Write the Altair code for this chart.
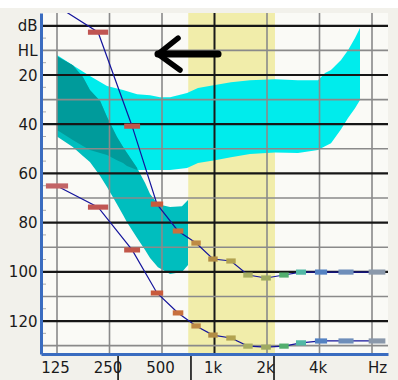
import altair as alt
import pandas as pd
import numpy as np

# ---------------- data ----------------
grid_freqs = [125, 250, 500, 1000, 2000, 4000, 8000]
x_tick_labels = ["125", "250", "500", "1k", "2k", "4k", "Hz"]
major_db = [0, 20, 40, 60, 80, 100, 120]
minor_db = [10, 30, 50, 70, 90, 110, 130]
small_tick_db = [5, 15, 25, 35, 45, 55, 65, 75, 85, 95, 105, 115, 125]
y_tick_values = [0, 10, 20, 40, 60, 80, 100, 120]
y_tick_labels = ["dB", "HL", "20", "40", "60", "80", "100", "120"]

band_lo = [707]
band_hi = [2222]
band_marks = [280, 733, 2194]

# light cyan band
a_freq = [125, 154, 193, 242, 299, 360, 427, 487, 556, 696, 804, 1007, 1243, 1598,
          2222, 3011, 3920, 4304, 4656, 5316, 5830, 6394, 6828]
a_top = [11.9, 16.0, 20.4, 24.5, 26.1, 27.8, 28.2, 29.0, 29.0, 27.3, 25.3, 24.1, 22.9, 22.1,
         21.7, 22.1, 22.1, 19.2, 18.0, 13.9, 9.9, 5.0, 0.9]
a_bottom = [42.4, 46.4, 50.5, 52.5, 55.8, 58.6, 58.6, 58.6, 58.6, 57.8, 55.8, 54.6, 53.4, 52.1,
            51.5, 51.7, 50.5, 49.0, 47.7, 42.0, 37.5, 33.5, 30.2]

# medium teal region
b_freq = [125, 154, 176, 193, 221, 242, 276, 299, 315, 360, 400, 427, 474, 556, 651, 705]
b_top = [12.4, 16.0, 20.8, 26.1, 30.6, 37.1, 45.2, 49.3, 51.7, 57.8, 63.9, 68.4, 72.5, 73.7, 73.3, 70.8]
b_bottom = [45.0, 49.3, 52.9, 55.4, 61.1, 65.5, 72.5, 76.9, 79.8, 86.3, 91.1, 94.4, 98.1, 100.9, 100.1, 97.2]

# dark teal overlap
d_freq = [125, 154, 176, 193, 221, 242, 276, 299, 315, 360]
d_top = [12.4, 16.0, 20.8, 26.1, 30.6, 37.1, 45.2, 49.3, 51.7, 57.8]
d_bottom = [42.4, 46.4, 48.9, 50.5, 51.7, 52.5, 54.6, 55.8, 57.0, 58.6]

# the two curves
curve_freq = [125, 215, 337, 468, 618, 784, 980, 1243, 1556, 1974, 2503, 3134, 4081, 5676, 8547]
upper_db = [-8.0, 2.6, 40.8, 72.5, 83.4, 88.3, 94.8, 95.6, 101.3, 102.5, 101.3, 100.1, 100.1, 100.1, 100.1]
lower_db = [65.1, 73.7, 91.1, 108.6, 116.7, 122.0, 125.7, 126.9, 130.2, 130.6, 130.2, 128.9, 128.1, 128.1, 128.1]
marker_colors = ["#C26466", "#C05552", "#C2574A", "#C85A3C", "#C8703E", "#BE8A44", "#B28C44",
                 "#B2A250", "#A8AE62", "#9EAA62", "#52AE6E", "#52B8A6", "#5482C2", "#6E8EBA", "#8A98AA"]

# arrow (shaft, then two arms)
arrow_x = [474, 474, 474]
arrow_x2 = [1048, 618, 634]
arrow_y = [11.5, 11.5, 11.5]
arrow_y2 = [11.5, 5.0, 18.0]

# ---------------- tables ----------------
W, H = 347, 341
xs = alt.Scale(type="log", domain=[101.2, 9882])
ys = alt.Scale(domain=[-5.2, 133.4], reverse=True)
FONT = "DejaVu Sans"


def lab_expr(vals, labs):
    e = "''"
    for v, l in zip(reversed(vals), reversed(labs)):
        e = f"datum.value == {v} ? '{l}' : ({e})"
    return e


x_axis = alt.Axis(values=grid_freqs, labelExpr=lab_expr(grid_freqs, x_tick_labels), grid=False,
                  ticks=False, domainColor="#3A6CC0", domainWidth=3, labelFont=FONT,
                  labelFontSize=15, labelColor="#1a1a1a", labelPadding=6, labelOverlap=False,
                  labelOffset={"condition": {"test": "datum.value == 8000", "value": 5}, "value": -2},
                  title=None, zindex=1)
y_axis = alt.Axis(values=y_tick_values, labelExpr=lab_expr(y_tick_values, y_tick_labels), grid=False,
                  ticks=False, domainColor="#3A6CC0", domainWidth=3, labelFont=FONT,
                  labelFontSize=15, labelColor="#1a1a1a", labelPadding=4, labelOverlap=False,
                  title=None, zindex=1)


def X(f):
    return alt.X(f, type="quantitative", scale=xs, axis=x_axis)


def Y(f):
    return alt.Y(f, type="quantitative", scale=ys, axis=y_axis)


band_df = pd.DataFrame({"lo": band_lo, "hi": band_hi})
a_df = pd.DataFrame({"f": a_freq, "t": a_top, "b": a_bottom})
b_df = pd.DataFrame({"f": b_freq, "t": b_top, "b": b_bottom})
d_df = pd.DataFrame({"f": d_freq, "t": d_top, "b": d_bottom})
vgrid_df = pd.DataFrame({"f": grid_freqs, "major": [f == 1000 for f in grid_freqs]})
maj_df = pd.DataFrame({"db": major_db})
min_df = pd.DataFrame({"db": minor_db})
st_df = pd.DataFrame({"db": small_tick_db})
bm_df = pd.DataFrame({"f": band_marks})
arrow_df = pd.DataFrame({"x": arrow_x, "x2": arrow_x2, "y": arrow_y, "y2": arrow_y2})

# marker widths follow the local spacing of the channels (in octaves)
lf = np.log2(np.array(curve_freq, dtype=float))
gaps = np.diff(lf)
left_gap = np.concatenate([[gaps[0]], gaps])
right_gap = np.concatenate([gaps, [gaps[-1]]])
half = 0.27 * (left_gap + right_gap) / 2
rows = []
for i, fr in enumerate(curve_freq):
    for name, vals in (("upper", upper_db), ("lower", lower_db)):
        rows.append({"curve": name, "f": fr, "db": vals[i], "i": i,
                     "lo": 2 ** (lf[i] - half[i]), "hi": 2 ** (lf[i] + half[i]),
                     "y1": vals[i] - 1.05, "y2": vals[i] + 1.05, "c": marker_colors[i]})
cur_df = pd.DataFrame(rows)

# ---------------- layers ----------------
top_strip = alt.Chart(band_df).mark_rect(color="white", clip=False).encode(
    x=alt.value(-41), x2=alt.value(W + 10), y=alt.value(-13), y2=alt.value(-5))
band = alt.Chart(band_df).mark_rect(color="#F1EDAA").encode(x=X("lo"), x2="hi")
area_a = alt.Chart(a_df).mark_area(color="#00ECEC", opacity=1).encode(x=X("f"), y=Y("t"), y2="b")
area_b = alt.Chart(b_df).mark_area(color="#00BEBE", opacity=1).encode(x=X("f"), y=Y("t"), y2="b")
area_d = alt.Chart(d_df).mark_area(color="#009B9B", opacity=1).encode(x=X("f"), y=Y("t"), y2="b")

vgrid = alt.Chart(vgrid_df).mark_rule().encode(
    x=X("f"),
    color=alt.condition("datum.major", alt.value("#1a1a1a"), alt.value("#8a8a8a")),
    strokeWidth=alt.condition("datum.major", alt.value(2), alt.value(1.6)))
hmin = alt.Chart(min_df).mark_rule(color="#8a8a8a", strokeWidth=1.6).encode(y=Y("db"))
hmaj = alt.Chart(maj_df).mark_rule(color="#161616", strokeWidth=2.2).encode(y=Y("db"))
small_ticks = alt.Chart(st_df).mark_rule(color="#a8a8a8", strokeWidth=1).encode(
    x=alt.value(2), x2=alt.value(5), y=Y("db"))

lines = alt.Chart(cur_df).mark_line(color="#14149C", strokeWidth=1.2, clip=True).encode(
    x=X("f"), y=Y("db"), detail="curve:N", order="i:Q")
markers = alt.Chart(cur_df).mark_rect(clip=True).encode(
    x=X("lo"), x2="hi", y=Y("y1"), y2="y2",
    color=alt.Color("c:N", scale=None))

arrow = alt.Chart(arrow_df).mark_rule(color="black", strokeCap="round").encode(
    x=X("x"), x2="x2", y=Y("y"), y2="y2",
    strokeWidth=alt.condition("datum.y2 == datum.y", alt.value(7), alt.value(5.5)))

bmarks = alt.Chart(bm_df).mark_rule(color="black", strokeWidth=1.5, clip=False).encode(
    x=X("f"), y=alt.value(H + 1), y2=alt.value(H + 26))

chart = alt.layer(
    top_strip, band, area_a, area_b, area_d, vgrid, hmin, hmaj, small_ticks, lines, markers, arrow, bmarks
).properties(
    width=W, height=H,
    autosize=alt.AutoSizeParams(type="none"),
    padding={"left": 41, "top": 13, "right": 10, "bottom": 26},
    background="#F2F1EB",
).configure_view(fill="#FAFAF6", stroke=None)

chart.save("out.html", embed_options={"renderer": "svg", "actions": False})
